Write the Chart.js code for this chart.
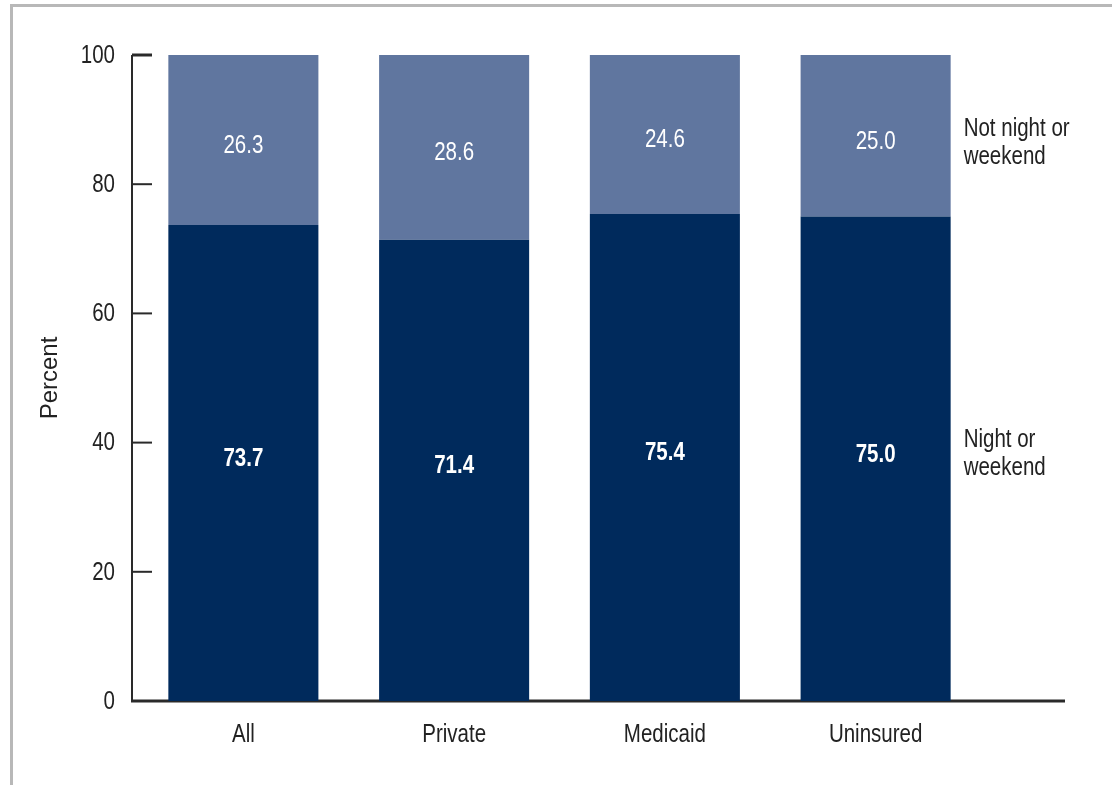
<!DOCTYPE html>
<html>
<head>
<meta charset="utf-8">
<script src="https://cdn.jsdelivr.net/npm/chart.js@4.4.1/dist/chart.umd.min.js"></script>
<style>
body { margin: 0; background: #fff; }
#wrap { width: 1112px; height: 785px; }
</style>
</head>
<body>
<div id="wrap"><canvas id="chart" width="1112" height="785"></canvas></div>
<script>
const categories = ['All', 'Private', 'Medicaid', 'Uninsured'];
const nightWeekend = [73.7, 71.4, 75.4, 75.0];
const notNightWeekend = [26.3, 28.6, 24.6, 25.0];
const seriesLabels = [['Night or', 'weekend'], ['Not night or', 'weekend']];
const yTicks = [0, 20, 40, 60, 80, 100];

const FONT = "'Liberation Sans', Arial, sans-serif";
const SQUEEZE = 0.82; // the original uses a condensed face

// draw text squeezed horizontally to mimic a narrow font
function narrowText(ctx, text, x, y, align, font, color) {
    ctx.save();
    ctx.font = font;
    ctx.fillStyle = color;
    ctx.textBaseline = 'middle';
    ctx.textAlign = align;
    ctx.translate(x, y);
    ctx.scale(SQUEEZE, 1);
    ctx.fillText(text, 0, 0);
    ctx.restore();
}

const axesPlugin = {
    id: 'axes',
    beforeDraw(chart) {
        const ctx = chart.ctx;
        ctx.save();
        ctx.fillStyle = '#fff';
        ctx.fillRect(0, 0, chart.width, chart.height);
        ctx.strokeStyle = '#b8b8b8';
        ctx.lineWidth = 3;
        ctx.beginPath();
        ctx.moveTo(11.5, chart.height);
        ctx.lineTo(11.5, 5.5);
        ctx.lineTo(chart.width, 5.5);
        ctx.stroke();
        ctx.restore();
    },
    beforeDatasetsDraw(chart) {
        const ctx = chart.ctx;
        const y = chart.scales.y;
        const x = chart.scales.x;
        const axisX = 132;
        const top = y.getPixelForValue(100);
        const bottom = y.getPixelForValue(0);
        ctx.save();
        ctx.strokeStyle = '#2a2a2a';
        ctx.lineWidth = 2;
        ctx.beginPath();
        ctx.moveTo(axisX, top);
        ctx.lineTo(axisX, bottom);
        ctx.stroke();
        yTicks.forEach(v => {
            const py = y.getPixelForValue(v);
            ctx.lineWidth = v === 100 ? 3 : 2;
            ctx.beginPath();
            ctx.moveTo(axisX, py);
            ctx.lineTo(axisX + 20, py);
            ctx.stroke();
            narrowText(ctx, String(v), 115, py + 1, 'right', '25px ' + FONT, '#222');
        });
        ctx.lineWidth = 3;
        ctx.beginPath();
        ctx.moveTo(axisX - 1, bottom);
        ctx.lineTo(1065, bottom);
        ctx.stroke();

        categories.forEach((c, i) => {
            narrowText(ctx, c, x.getPixelForValue(i), 735, 'center', '25px ' + FONT, '#222');
        });

        // axis title
        ctx.translate(50, (top + bottom) / 2);
        ctx.rotate(-Math.PI / 2);
        ctx.fillStyle = '#222';
        ctx.font = '24px ' + FONT;
        ctx.textAlign = 'center';
        ctx.textBaseline = 'middle';
        ctx.fillText('Percent', 0, 0);
        ctx.restore();
    },
    afterDatasetsDraw(chart) {
        const ctx = chart.ctx;
        chart.data.datasets.forEach((ds, i) => {
            const meta = chart.getDatasetMeta(i);
            const shift = i === 0 ? -4 : 6;
            const font = (i === 0 ? 'bold ' : '') + '25px ' + FONT;
            meta.data.forEach((bar, j) => {
                const cy = (bar.y + bar.base) / 2 + shift;
                narrowText(ctx, ds.data[j].toFixed(1), bar.x, cy, 'center', font, '#fff');
            });
        });
        // series labels to the right of the last bar
        chart.data.datasets.forEach((ds, i) => {
            const meta = chart.getDatasetMeta(i);
            const bar = meta.data[meta.data.length - 1];
            const cy = (bar.y + bar.base) / 2 + (i === 0 ? -5 : 7);
            const lines = seriesLabels[i];
            lines.forEach((t, k) => {
                narrowText(ctx, t, bar.x + bar.width / 2 + 13,
                    cy + (k - (lines.length - 1) / 2) * 28, 'left', '25px ' + FONT, '#222');
            });
        });
    }
};

new Chart(document.getElementById('chart'), {
    type: 'bar',
    data: {
        labels: categories,
        datasets: [
            {
                label: 'Night or weekend',
                data: nightWeekend,
                backgroundColor: '#002a5c',
                barPercentage: 0.712,
                categoryPercentage: 1
            },
            {
                label: 'Not night or weekend',
                data: notNightWeekend,
                backgroundColor: '#60769f',
                barPercentage: 0.712,
                categoryPercentage: 1
            }
        ]
    },
    options: {
        responsive: false,
        animation: false,
        layout: { padding: { top: 55, right: 131, bottom: 0, left: 0 } },
        plugins: {
            legend: { display: false },
            tooltip: { enabled: false }
        },
        scales: {
            x: {
                stacked: true,
                grid: { display: false },
                border: { display: false },
                ticks: { display: false },
                afterFit(scale) { scale.height = 84; }
            },
            y: {
                stacked: true,
                min: 0,
                max: 100,
                grid: { display: false },
                border: { display: false },
                ticks: { display: false },
                afterFit(scale) { scale.width = 138; }
            }
        }
    },
    plugins: [axesPlugin]
});
</script>
</body>
</html>
